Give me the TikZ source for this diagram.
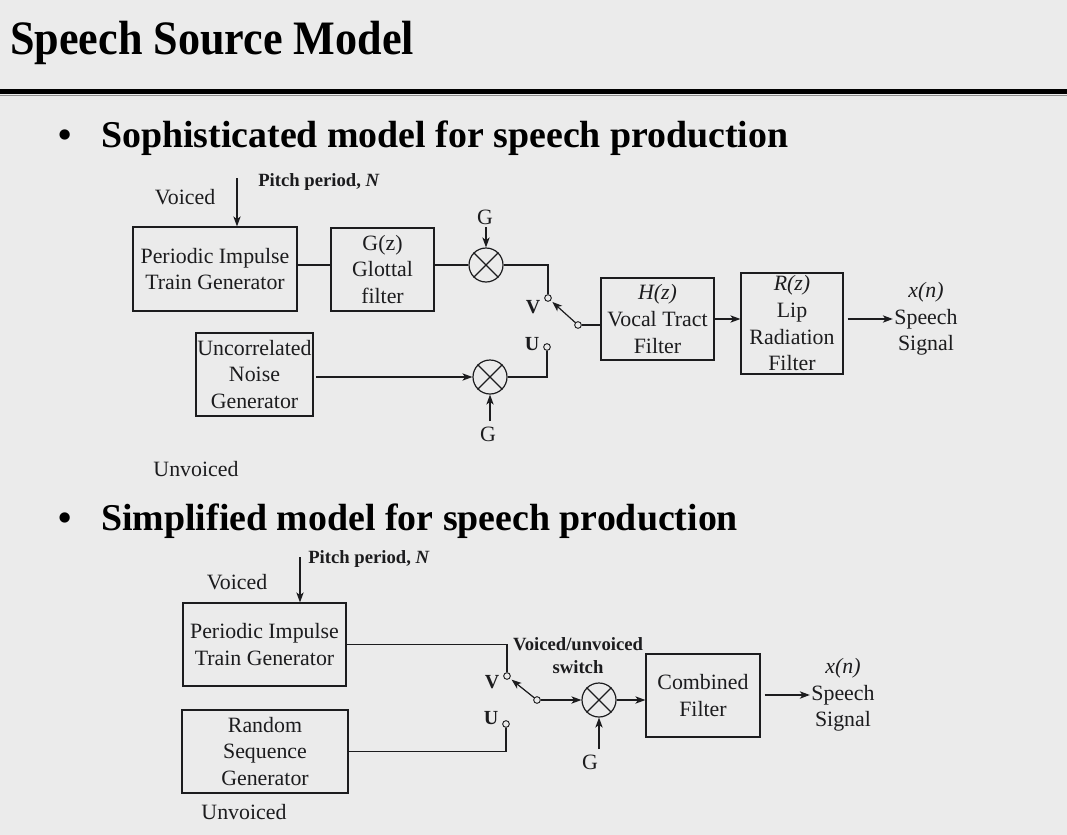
\documentclass[tikz,border=0pt]{standalone}
\usepackage{graphicx}
\usepackage{fontspec}
\setmainfont{Liberation Serif}
\usetikzlibrary{arrows.meta}

\definecolor{bg}{RGB}{235,235,235}
\definecolor{ink}{RGB}{28,28,30}
\newcommand\bodyfont{\fontsize{16.4}{20}\selectfont}

\begin{document}
\begin{tikzpicture}[x=0.75pt,y=-0.75pt,
  box/.style={draw=ink,line width=0.9pt,align=center,inner sep=0pt,font=\bodyfont,text=ink},
  lbl/.style={align=center,inner sep=0pt,font=\bodyfont,text=ink},
  smallbold/.style={inner sep=0pt,align=center,text=ink,font=\bfseries\fontsize{14}{17.5}\selectfont},
  sw/.style={inner sep=0pt,text=ink,font=\bfseries\fontsize{15}{18}\selectfont},
  head/.style={inner sep=0pt,text=black,font=\bfseries\fontsize{28.4}{32}\selectfont},
  mult/.style={circle,draw=ink,line width=0.9pt,minimum size=25.5pt,inner sep=0pt},
  contact/.style={circle,draw=ink,line width=0.7pt,minimum size=5pt,inner sep=0pt,fill=bg},
  wire/.style={draw=ink,line width=0.9pt},
  arr/.style={wire,-{Stealth[length=7.5pt,width=5.5pt,inset=2pt]}},
]
% page background and header rule
\fill[bg] (0,0) rectangle (1067,835);
\useasboundingbox (0,0) rectangle (1067,835);
\fill[black] (0,88.5) rectangle (1067,93.5);
\draw[black!45,line width=1.2pt] (0,95.5) -- (1067,95.5);

\node[anchor=base west,inner sep=0pt,text=black,font=\bfseries\fontsize{36}{40}\selectfont]
  (title) at (10,54) {\scalebox{0.92}[1]{Speech Source Model}};

\node[head,anchor=base] (bulA) at (65,147) {\textbullet};
\node[head,anchor=base west] (headA) at (101,147) {Sophisticated model for speech production};
\node[head,anchor=base] (bulB) at (65,530) {\textbullet};
\node[head,anchor=base west] (headB) at (101,530) {Simplified model for speech production};

% ---------- sophisticated model ----------
\node[box,minimum width=123pt,minimum height=63pt] (pitgA) at (215,269) {Periodic Impulse\\Train Generator};
\node[box,minimum width=77.25pt,minimum height=62.25pt] (glot) at (382.5,269.5) {G(z)\\Glottal\\filter};
\node[box,minimum width=87.75pt,minimum height=62.25pt] (noise) at (254.5,374.5) {Uncorrelated\\Noise\\Generator};
\node[box,minimum width=84.75pt,minimum height=61.5pt] (vt) at (657.5,319) {\textit{H(z)}\\Vocal Tract\\Filter};
\node[box,minimum width=76.5pt,minimum height=75.75pt] (lip) at (792,323.5) {\textit{R(z)}\\Lip\\Radiation\\Filter};
\node[lbl] (outA) at (926,319) {\textit{x(n)}\\Speech\\Signal};
\node[mult] (mA) at (486,265) {};
\node[mult] (mB) at (490,377) {};
\node[contact] (vA) at (548,298) {};
\node[contact] (uA) at (547,347) {};
\node[contact] (pA) at (578,325) {};
\node[sw] (labVA) at (533,307) {V};
\node[sw] (labUA) at (532,344) {U};
\node[lbl] (gA) at (485,217) {G};
\node[lbl] (gB) at (488,434) {G};
\node[lbl] (voicedA) at (185,197) {Voiced};
\node[lbl] (unvoicedA) at (196,469) {Unvoiced};
\node[smallbold,anchor=base west] (pitchA) at (258,186) {Pitch period, \textit{N}};
\coordinate (pitchtopA) at (237,178);

\draw[arr] (pitchtopA) -- (pitchtopA |- pitgA.north);
\draw[wire] (pitgA.east |- mA) -- (glot.west |- mA);
\draw[wire] (glot.east |- mA) -- (mA.west);
\draw[wire] (mA.east) -| (vA.north);
\draw[arr,shorten <=2pt] (mA.north |- gA.south) -- (mA.north);
\draw[arr,shorten <=2pt] (noise.east |- mB) -- (mB.west);
\draw[wire] (mB.east) -| (uA.south);
\draw[arr,shorten <=4pt] (mB.south |- gB.north) -- (mB.south);
\draw[arr,shorten >=1.5pt] (pA) -- (vA);
\draw[wire] (pA.east) -- (pA.east -| vt.west);
\draw[arr] (vt.east) -- (vt.east -| lip.west);
\draw[arr,shorten <=3pt,shorten >=1pt] (lip.east |- outA.west) -- (outA.west);

% ---------- simplified model ----------
\node[box,minimum width=122.25pt,minimum height=62.25pt] (pitgB) at (264.5,644.5) {Periodic Impulse\\Train Generator};
\node[box,minimum width=124.5pt,minimum height=62.25pt] (rand) at (265,751.5) {Random\\Sequence\\Generator};
\node[box,minimum width=85.5pt,minimum height=62.25pt] (comb) at (703,695.5) {Combined\\Filter};
\node[lbl] (outB) at (843,695) {\textit{x(n)}\\Speech\\Signal};
\node[mult] (mC) at (599,700) {};
\node[contact] (vB) at (507,676) {};
\node[contact] (uB) at (506,724) {};
\node[contact] (pB) at (537,700) {};
\node[sw] (labVB) at (492,682) {V};
\node[sw] (labUB) at (491,718) {U};
\node[smallbold] (swlbl) at (578,655.5) {Voiced/unvoiced\\switch};
\node[lbl] (gC) at (590,762) {G};
\node[lbl] (voicedB) at (237,582) {Voiced};
\node[lbl] (unvoicedB) at (244,812) {Unvoiced};
\node[smallbold,anchor=base west] (pitchB) at (308,563) {Pitch period, \textit{N}};
\coordinate (pitchtopB) at (300,557);

\draw[arr] (pitchtopB) -- (pitchtopB |- pitgB.north);
\draw[wire] (pitgB.east) -| (vB.north);
\draw[wire] (rand.east) -| (uB.south);
\draw[arr,shorten >=1.5pt] (pB) -- (vB);
\draw[arr] (pB.east) -- (pB.east -| mC.west);
\draw[arr] (mC.east) -- (mC.east -| comb.west);
\draw[arr,shorten <=4pt] (mC.south |- gC.north) -- (mC.south);
\draw[arr,shorten <=3pt,shorten >=1pt] (comb.east |- outB.west) -- (outB.west);

% multiplier crosses
\foreach \m in {mA,mB,mC}
  \draw[wire] (\m.north west) -- (\m.south east) (\m.north east) -- (\m.south west);
\end{tikzpicture}
\end{document}
